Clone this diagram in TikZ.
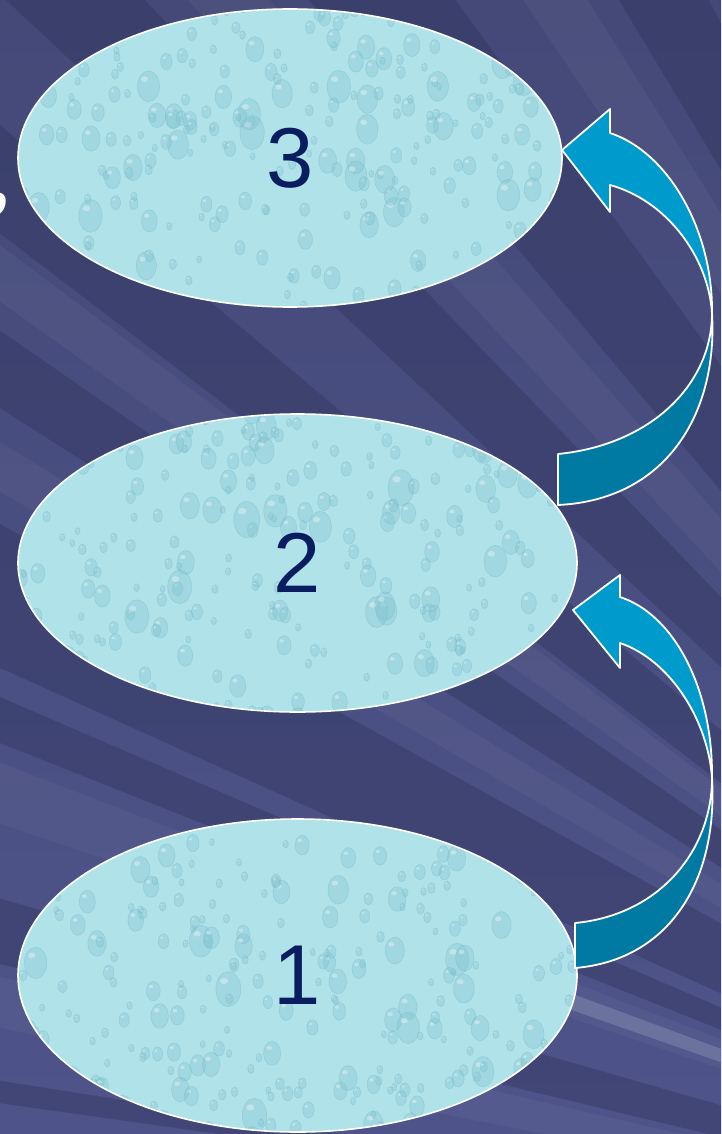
\documentclass[tikz,border=0pt]{standalone}
\usepackage{fontspec}
\setmainfont{Liberation Sans}
\newfontfamily\commafont{Liberation Serif}
\usetikzlibrary{shapes.geometric}
\definecolor{bgtop}{RGB}{68,73,120}
\definecolor{bgbot}{RGB}{78,84,138}
\definecolor{bgdark}{RGB}{46,50,90}
\definecolor{bright}{RGB}{108,114,158}
\definecolor{arrowlight}{RGB}{0,155,205}
\definecolor{arrowdark}{RGB}{0,122,162}
\definecolor{ellbase}{RGB}{176,226,233}
\definecolor{dropc}{RGB}{128,194,208}
\definecolor{dropedge}{RGB}{100,170,188}
\definecolor{textc}{RGB}{10,30,95}
\newcommand{\dropfield}{%
  \foreach \k in {1,...,300}{%
    \pgfmathsetmacro{\dx}{rand*300}%
    \pgfmathsetmacro{\dy}{rand*165}%
    \pgfmathsetmacro{\rr}{2.5+11*rnd*rnd}%
    \fill[dropc, fill opacity=.32, draw=dropedge, draw opacity=.3, line width=.5pt]
      ([shift={(\dx,\dy)}]path picture bounding box.center) ellipse ({\rr pt} and {1.4*\rr pt});
    \fill[white, fill opacity=.35]
      ([shift={(\dx-0.35*\rr,\dy+0.65*\rr)}]path picture bounding box.center) ellipse ({0.32*\rr pt} and {0.25*\rr pt});
  }}
\tikzset{
  bubble/.style={ellipse, draw=white, line width=1.6pt, fill=ellbase, inner sep=0pt,
    text=textc, font=\fontsize{85}{85}\selectfont, path picture={\dropfield}},
  raydark/.style={fill=bgdark, fill opacity=.4},
  raylight/.style={fill=white, fill opacity=.04},
  arrowfront/.style={fill=arrowlight, draw=white, line width=1.8pt, line join=round},
  arrowback/.style={fill=arrowdark, draw=white, line width=1.8pt, line join=round},
}
\begin{document}
\begin{tikzpicture}[x=1pt,y=1pt]
\pgfmathsetseed{7}
\useasboundingbox (0,0) rectangle (721,-1134);
\clip (0,0) rectangle (721,-1134);
% background with rays
\shade[top color=bgtop, bottom color=bgbot] (0,0) rectangle (721,-1134);
\begin{scope}[shift={(1400,-1300)}]
  \foreach \a/\b in {118/121,126/130,134/137,140/142.7,145.3/147.5,151/155.7,156.7/158.3,164/166.5,171.1/172}
    {\fill[raydark] (0,0) -- (\a:2600) -- (\b:2600) -- cycle;}
  \foreach \a/\b in {122/124,131/133,143/144.5,148.5/150,159/161.2,167/169}
    {\fill[raylight] (0,0) -- (\a:2600) -- (\b:2600) -- cycle;}
  \fill[bright] (159.7:680) -- (159.7:930) -- (160.7:930) -- (160.7:680) -- cycle;
\end{scope}
% cut-off comma at the left
\node[text=white, font=\commafont\fontsize{100}{100}\selectfont, inner sep=0pt, anchor=base east] (comma) at (13,-203) {,};
% ellipses
\node[bubble, minimum width=544pt, minimum height=298pt] (e3) at (290,-158) {3};
\node[bubble, minimum width=559pt, minimum height=298pt] (e2) at (297.5,-563) {2};
\node[bubble, minimum width=559pt, minimum height=313pt] (e1) at (297.5,-975.5) {1};
% curved arrow 2 -> 3
\draw[arrowback] (558,-454) .. controls (650,-445) and (712,-385) .. (712,-313)
  .. controls (718,-415) and (665,-500) .. (558,-505) -- cycle;
\draw[arrowfront] (562,-150) -- (610,-109) -- (610,-133)
  .. controls (668,-152) and (713,-230) .. (712,-313)
  .. controls (708,-255) and (665,-200) .. (610,-185) -- (610,-212) -- cycle;
% curved arrow 1 -> 2
\draw[arrowback] (575,-923) .. controls (660,-915) and (712,-850) .. (712,-778)
  .. controls (718,-880) and (670,-960) .. (575,-968) -- cycle;
\draw[arrowfront] (573,-610) -- (620,-575) -- (620,-597)
  .. controls (675,-615) and (713,-690) .. (712,-778)
  .. controls (708,-720) and (670,-660) .. (620,-643) -- (620,-668) -- cycle;
\end{tikzpicture}
\end{document}
